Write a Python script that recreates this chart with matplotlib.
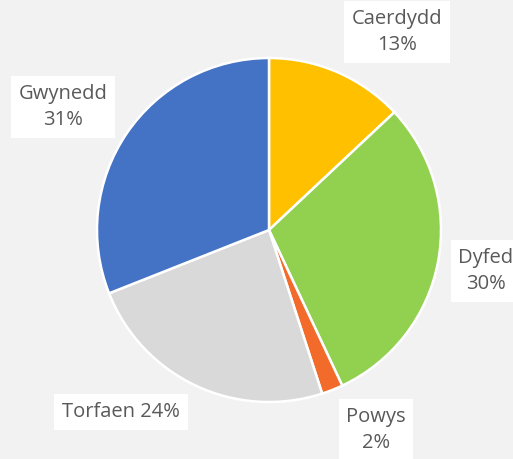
import matplotlib
matplotlib.use("Agg")
import matplotlib.pyplot as plt

categories = ["Caerdydd", "Dyfed", "Powys", "Torfaen", "Gwynedd"]
values = [13, 30, 2, 24, 31]
colors = ["#FFC000", "#92D050", "#F26B2A", "#D9D9D9", "#4472C4"]

W, H = 513, 459
fig = plt.figure(figsize=(W / 100, H / 100), dpi=100)
fig.patch.set_facecolor("#F2F2F2")
ax = fig.add_axes([0, 0, 1, 1])
ax.set_facecolor("#F2F2F2")

cx, cy, r = 269, H - 230, 172
ax.pie(values, colors=colors, startangle=90, counterclock=False,
       center=(cx, cy), radius=r, frame=True,
       wedgeprops=dict(edgecolor="white", linewidth=1.8))
ax.set_xlim(0, W)
ax.set_ylim(0, H)
ax.axis("off")

# label positions (pixels from top-left)
label_pos = {
    "Caerdydd": (397, 32, True),
    "Dyfed": (486, 271, True),
    "Powys": (376, 430, True),
    "Torfaen": (121, 412, False),
    "Gwynedd": (63, 107, True),
}
for name, v in zip(categories, values):
    x, y, two = label_pos[name]
    txt = f"{name}\n{v}%" if two else f"{name} {v}%"
    ax.text(x, H - y, txt, ha="center", va="center", fontsize=14.5,
            family=["Open Sans", "DejaVu Sans"], color="#595959",
            linespacing=1.4,
            bbox=dict(boxstyle="square,pad=0.38", fc="white", ec="none"))

fig.savefig("out.png", dpi=100, facecolor=fig.get_facecolor())
